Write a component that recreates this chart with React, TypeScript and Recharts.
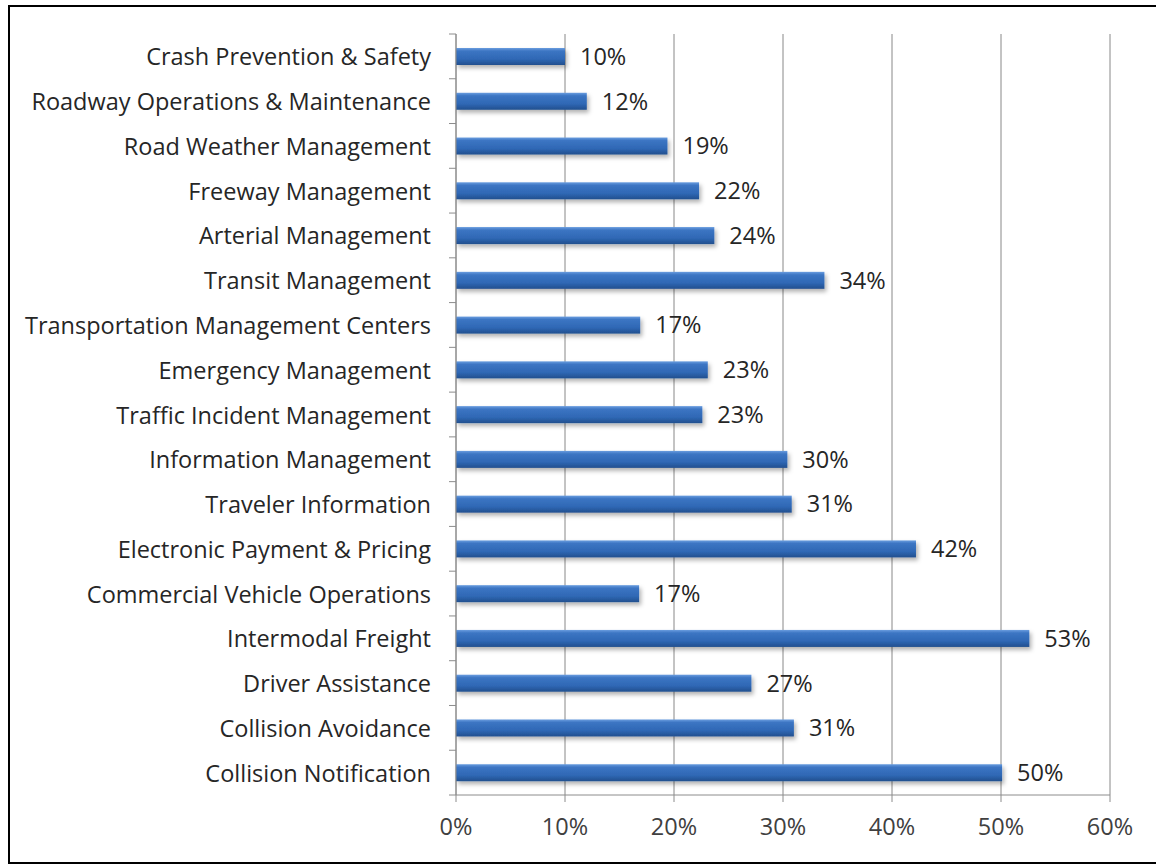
import { BarChart, Bar, XAxis, YAxis, CartesianGrid, LabelList } from "recharts";

const categories = [
  "Crash Prevention & Safety",
  "Roadway Operations & Maintenance",
  "Road Weather Management",
  "Freeway Management",
  "Arterial Management",
  "Transit Management",
  "Transportation Management Centers",
  "Emergency Management",
  "Traffic Incident Management",
  "Information Management",
  "Traveler Information",
  "Electronic Payment & Pricing",
  "Commercial Vehicle Operations",
  "Intermodal Freight",
  "Driver Assistance",
  "Collision Avoidance",
  "Collision Notification",
];

const shares = [10, 12, 19.4, 22.3, 23.7, 33.8, 16.9, 23.1, 22.6, 30.4, 30.8, 42.2, 16.8, 52.6, 27.1, 31, 50.1];

const xTicks = [0, 10, 20, 30, 40, 50, 60];

const data = categories.map((name, i) => ({ name, value: shares[i] }));

const W = 1156;
const H = 866;
const PLOT_TOP = 34;
const PLOT_BOTTOM = 795;
const AXIS_X = 456;
const BAND = (PLOT_BOTTOM - PLOT_TOP) / categories.length;
const FONT = "'Open Sans', Lato, sans-serif";
const FS = 23.5;

function CategoryTick(props: any) {
  const { y, payload, index } = props;
  const half = BAND / 2;
  const last = index === categories.length - 1 || payload.value === categories[categories.length - 1];
  return (
    <g>
      <line x1={AXIS_X - 7} x2={AXIS_X} y1={y - half} y2={y - half} stroke="#8c8c8c" />
      {last && <line x1={AXIS_X - 7} x2={AXIS_X} y1={y + half} y2={y + half} stroke="#8c8c8c" />}
      <text
        x={431}
        y={y}
        textAnchor="end"
        dominantBaseline="central"
        fontFamily={FONT}
        fontSize={FS}
        fill="#262626"
      >
        {payload.value}
      </text>
    </g>
  );
}

function BarShape(props: any) {
  const { x, y, width, height } = props;
  return (
    <rect
      x={x}
      y={y}
      width={width}
      height={height}
      fill="url(#barGrad)"
      filter="url(#barShadow)"
    />
  );
}

export default function App() {
  return (
    <div style={{ position: "relative", width: W, height: H }}>
      <style>{`body{margin:0;overflow:hidden;background:#fff}`}</style>
      <div
        style={{
          position: "absolute",
          left: 8,
          top: 5,
          width: 1160,
          height: 859,
          border: "2px solid #000",
          boxSizing: "border-box",
        }}
      />
      <div style={{ position: "absolute", left: 0, top: 0 }}>
        <BarChart
          width={W}
          height={H}
          data={data}
          layout="vertical"
          barSize={17}
          margin={{ top: PLOT_TOP, right: W - 1110, bottom: H - PLOT_BOTTOM - 40, left: 0 }}
        >
          <defs>
            <linearGradient id="barGrad" x1="0" y1="0" x2="0" y2="1">
              <stop offset="0" stopColor="#6a9ddf" />
              <stop offset="0.18" stopColor="#3c75c3" />
              <stop offset="0.65" stopColor="#2f68b5" />
              <stop offset="1" stopColor="#224f8e" />
            </linearGradient>
            <filter id="barShadow" x="-5%" y="-30%" width="115%" height="190%">
              <feDropShadow dx="2" dy="3" stdDeviation="2" floodColor="#000" floodOpacity="0.3" />
            </filter>
          </defs>
          <CartesianGrid horizontal={false} stroke="#888888" />
          <XAxis
            type="number"
            domain={[0, 60]}
            ticks={xTicks}
            interval={0}
            height={40}
            tickSize={7}
            tickMargin={16}
            axisLine={{ stroke: "#8c8c8c" }}
            tickLine={{ stroke: "#8c8c8c" }}
            tickFormatter={(v: number) => `${v}%`}
            tick={{ fontFamily: FONT, fontSize: FS, fill: "#404040" }}
          />
          <YAxis
            type="category"
            dataKey="name"
            width={AXIS_X}
            interval={0}
            tickLine={false}
            axisLine={{ stroke: "#8c8c8c" }}
            tick={<CategoryTick />}
          />
          <Bar dataKey="value" shape={<BarShape />} isAnimationActive={false}>
            <LabelList
              dataKey="value"
              position="right"
              offset={15}
              formatter={(v: any) => `${Math.round(Number(v))}%`}
              style={{ fontFamily: FONT, fontSize: FS, fill: "#262626" }}
            />
          </Bar>
        </BarChart>
      </div>
    </div>
  );
}
